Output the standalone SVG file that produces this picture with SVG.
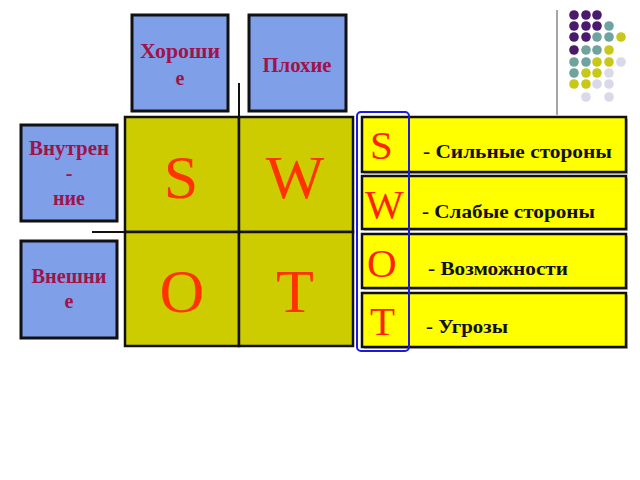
<svg xmlns="http://www.w3.org/2000/svg" width="640" height="480" viewBox="0 0 640 480">
<style>
.blue{fill:#7F9FE8;stroke:#111;stroke-width:3}
.lbl{font-family:"Liberation Serif",serif;font-weight:bold;font-size:20px;fill:#A0134A;text-anchor:middle}
.cell{fill:#CCCC00;stroke:#111;stroke-width:2.5}
.big{font-family:"Liberation Serif",serif;font-size:62px;fill:#FF3300;text-anchor:middle}
.ybox{fill:#FFFF00;stroke:#111;stroke-width:2.5}
.shadow{fill:#BBB}
.let{font-family:"Liberation Serif",serif;font-size:41px;fill:#FF2200}
.desc{font-family:"Liberation Serif",serif;font-weight:bold;font-size:19px;fill:#111}
.pu{fill:#4A1A6C}.te{fill:#6FA3A0}.ye{fill:#C8C81A}.la{fill:#D9D9EA}
</style>
<g id="deco">
<line x1="557" y1="10" x2="557" y2="115" stroke="#888" stroke-width="1.5"/>
<g>
<circle class="pu" cx="574" cy="15" r="4.8"/><circle class="pu" cx="586" cy="15" r="4.8"/><circle class="pu" cx="597" cy="15" r="4.8"/>
<circle class="pu" cx="574" cy="26" r="4.8"/><circle class="pu" cx="586" cy="26" r="4.8"/><circle class="pu" cx="597" cy="26" r="4.8"/><circle class="te" cx="609" cy="26" r="4.8"/>
<circle class="pu" cx="574" cy="37" r="4.8"/><circle class="pu" cx="586" cy="37" r="4.8"/><circle class="te" cx="597" cy="37" r="4.8"/><circle class="te" cx="609" cy="37" r="4.8"/><circle class="ye" cx="621" cy="37" r="4.8"/>
<circle class="pu" cx="574" cy="50" r="4.8"/><circle class="te" cx="586" cy="50" r="4.8"/><circle class="te" cx="597" cy="50" r="4.8"/><circle class="ye" cx="609" cy="50" r="4.8"/>
<circle class="te" cx="574" cy="62" r="4.8"/><circle class="te" cx="586" cy="62" r="4.8"/><circle class="ye" cx="597" cy="62" r="4.8"/><circle class="ye" cx="609" cy="62" r="4.8"/><circle class="la" cx="621" cy="62" r="4.8"/>
<circle class="te" cx="574" cy="73" r="4.8"/><circle class="ye" cx="586" cy="73" r="4.8"/><circle class="ye" cx="597" cy="73" r="4.8"/><circle class="la" cx="609" cy="73" r="4.8"/>
<circle class="ye" cx="574" cy="84" r="4.8"/><circle class="ye" cx="586" cy="84" r="4.8"/><circle class="la" cx="597" cy="84" r="4.8"/><circle class="la" cx="609" cy="84" r="4.8"/>
<circle class="la" cx="586" cy="97" r="4.8"/><circle class="la" cx="609" cy="97" r="4.8"/>
</g>
</g>
<g id="good"><rect class="blue" x="132" y="15" width="96" height="96"/><text class="lbl" x="180" y="58" textLength="80" lengthAdjust="spacingAndGlyphs">Хороши</text><text class="lbl" x="180" y="85">е</text></g>
<g id="bad"><rect class="blue" x="249" y="15" width="97" height="96"/><text class="lbl" x="297" y="72" textLength="69" lengthAdjust="spacingAndGlyphs">Плохие</text></g>
<g id="internal"><rect class="blue" x="21" y="125" width="96" height="96"/><text class="lbl" x="69" y="155" textLength="80" lengthAdjust="spacingAndGlyphs">Внутрен</text><text class="lbl" x="69" y="180">-</text><text class="lbl" x="69" y="205">ние</text></g>
<g id="external"><rect class="blue" x="21" y="241" width="96" height="97"/><text class="lbl" x="69" y="283" textLength="75" lengthAdjust="spacingAndGlyphs">Внешни</text><text class="lbl" x="69" y="308">е</text></g>
<g id="grid">
<rect class="cell" x="125" y="117" width="114" height="115"/>
<rect class="cell" x="239" y="117" width="114" height="115"/>
<rect class="cell" x="125" y="232" width="114" height="114"/>
<rect class="cell" x="239" y="232" width="114" height="114"/>
<text class="big" x="181" y="198">S</text>
<text class="big" x="295" y="198">W</text>
<text class="big" x="182" y="312">O</text>
<text class="big" x="295" y="312">T</text>
</g>
<g id="connectors" stroke="#111" stroke-width="2">
<line x1="239" y1="83" x2="239" y2="346"/>
<line x1="92" y1="232" x2="353" y2="232"/>
</g>
<g id="row-s"><rect class="shadow" x="364" y="119" width="264" height="55"/><rect class="ybox" x="362" y="117" width="264" height="55"/><text class="let" x="370" y="159">S</text><text class="desc" x="423" y="158" textLength="189" lengthAdjust="spacingAndGlyphs">- Сильные стороны</text></g>
<g id="row-w"><rect class="shadow" x="364" y="178" width="264" height="53"/><rect class="ybox" x="362" y="176" width="264" height="53"/><text class="let" x="365" y="218">W</text><text class="desc" x="422" y="218" textLength="173" lengthAdjust="spacingAndGlyphs">- Слабые стороны</text></g>
<g id="row-o"><rect class="shadow" x="364" y="236" width="264" height="54"/><rect class="ybox" x="362" y="234" width="264" height="54"/><text class="let" x="367" y="277">O</text><text class="desc" x="428" y="275" textLength="140" lengthAdjust="spacingAndGlyphs">- Возможности</text></g>
<g id="row-t"><rect class="shadow" x="364" y="295" width="264" height="54"/><rect class="ybox" x="362" y="293" width="264" height="54"/><text class="let" x="370" y="335">T</text><text class="desc" x="426" y="333" textLength="82" lengthAdjust="spacingAndGlyphs">- Угрозы</text></g>
<rect id="swot-frame" x="357" y="112" width="52" height="239" rx="4" fill="none" stroke="#1A1AE0" stroke-width="2"/>
</svg>
